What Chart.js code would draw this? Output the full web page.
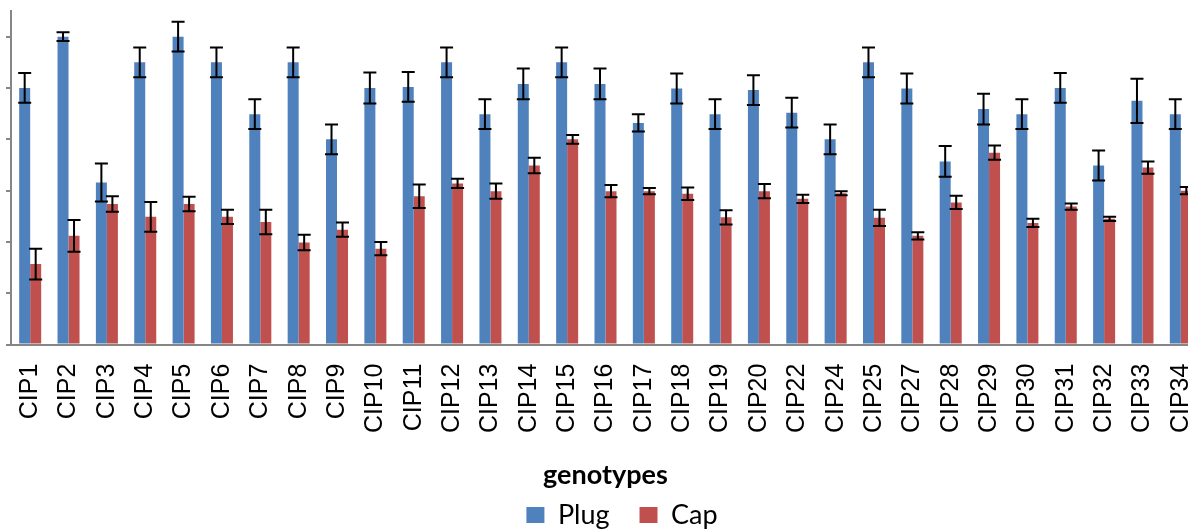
<!DOCTYPE html>
<html>
<head>
<meta charset="utf-8">
<script src="https://cdn.jsdelivr.net/npm/chart.js@4"></script>
<style>
  html, body { margin: 0; padding: 0; background: #fff; overflow: hidden; }
  #wrap { width: 1200px; height: 529px; }
</style>
</head>
<body>
<div id="wrap"><canvas id="myChart" width="1200" height="529"></canvas></div>
<script>
var genotypes = ["CIP1", "CIP2", "CIP3", "CIP4", "CIP5", "CIP6", "CIP7", "CIP8", "CIP9", "CIP10",
  "CIP11", "CIP12", "CIP13", "CIP14", "CIP15", "CIP16", "CIP17", "CIP18", "CIP19", "CIP20",
  "CIP22", "CIP24", "CIP25", "CIP27", "CIP28", "CIP29", "CIP30", "CIP31", "CIP32", "CIP33", "CIP34"];

var plugValues = [5.0, 6.0, 3.16, 5.5, 6.0, 5.5, 4.49, 5.5, 4.0, 5.0,
  5.02, 5.5, 4.49, 5.08, 5.5, 5.08, 4.32, 4.99, 4.49, 4.96,
  4.52, 4.0, 5.5, 4.99, 3.57, 4.59, 4.49, 5.0, 3.49, 4.75, 4.49];
var plugErr = [0.29, 0.085, 0.37, 0.29, 0.29, 0.29, 0.29, 0.29, 0.29, 0.3,
  0.29, 0.29, 0.29, 0.3, 0.29, 0.3, 0.17, 0.29, 0.29, 0.29,
  0.29, 0.29, 0.29, 0.29, 0.3, 0.3, 0.29, 0.29, 0.29, 0.43, 0.29];

var capValues = [1.57, 2.12, 2.74, 2.49, 2.74, 2.49, 2.39, 1.99, 2.24, 1.87,
  2.89, 3.14, 2.99, 3.49, 4.0, 2.99, 2.99, 2.94, 2.48, 2.99,
  2.84, 2.95, 2.47, 2.12, 2.77, 3.74, 2.37, 2.69, 2.45, 3.45, 3.0];
var capErr = [0.3, 0.31, 0.15, 0.29, 0.14, 0.14, 0.24, 0.15, 0.14, 0.13,
  0.23, 0.09, 0.15, 0.15, 0.085, 0.12, 0.06, 0.12, 0.14, 0.14,
  0.08, 0.04, 0.16, 0.07, 0.13, 0.14, 0.08, 0.06, 0.04, 0.12, 0.07];

var yTicks = [0, 1, 2, 3, 4, 5, 6];

// error bars drawn on top of the bars
var errorBars = {
  id: 'errorBars',
  afterDatasetsDraw(chart) {
    var ctx = chart.ctx;
    var yScale = chart.scales.y;
    ctx.save();
    ctx.strokeStyle = '#000';
    ctx.lineWidth = 2;
    chart.data.datasets.forEach(function (ds, i) {
      var meta = chart.getDatasetMeta(i);
      meta.data.forEach(function (bar, j) {
        var v = ds.data[j], e = ds.errors[j];
        var top = yScale.getPixelForValue(v + e);
        var bot = yScale.getPixelForValue(v - e);
        var x = bar.x, half = 6.5;
        ctx.beginPath();
        ctx.moveTo(x, top); ctx.lineTo(x, bot);
        ctx.moveTo(x - half, top); ctx.lineTo(x + half, top);
        ctx.moveTo(x - half, bot); ctx.lineTo(x + half, bot);
        ctx.stroke();
      });
    });
    ctx.restore();
  }
};

// legend sits a little right of centre in the original
var legendShift = {
  id: 'legendShift',
  afterLayout(chart) {
    if (chart.legend) { chart.legend.left += 22; chart.legend.right += 22; }
  }
};

new Chart("myChart", {
  type: "bar",
  data: {
    labels: genotypes,
    datasets: [{
      label: "Plug",
      data: plugValues,
      errors: plugErr,
      backgroundColor: "#4F81BD"
    }, {
      label: "Cap",
      data: capValues,
      errors: capErr,
      backgroundColor: "#C0504D"
    }]
  },
  options: {
    responsive: false,
    animation: false,
    devicePixelRatio: 1,
    categoryPercentage: 0.574,
    barPercentage: 1.0,
    layout: { padding: { top: 11, left: 0, right: 0, bottom: 0 } },
    plugins: {
      tooltip: { enabled: false },
      legend: {
        position: "bottom",
        maxHeight: 57.5,
        labels: {
          color: "#000",
          font: { family: "Lato", size: 27 },
          boxWidth: 18,
          boxHeight: 16,
          padding: 30
        }
      }
    },
    scales: {
      x: {
        grid: { display: false },
        border: { color: "#868686", width: 2 },
        ticks: {
          color: "#000",
          autoSkip: false,
          minRotation: 90,
          maxRotation: 90,
          padding: 11,
          font: { family: "'Liberation Sans', Arial", size: 25 }
        },
        title: {
          display: true,
          text: "genotypes",
          color: "#000",
          font: { family: "Lato", size: 27, weight: "bold" },
          padding: { top: 15, bottom: -20 }
        },
        afterFit: function (s) { s.paddingLeft = 0; s.paddingRight = 0; }
      },
      y: {
        min: 0,
        max: 6.5,
        afterBuildTicks: function (s) { s.ticks = yTicks.map(function (v) { return { value: v }; }); },
        ticks: { display: false },
        grid: { drawOnChartArea: false, drawTicks: true, tickLength: 5, color: "#868686", lineWidth: 2 },
        border: { color: "#868686", width: 2 },
        afterFit: function (s) { s.width = 11; }
      }
    }
  },
  plugins: [errorBars, legendShift]
});
</script>
</body>
</html>
